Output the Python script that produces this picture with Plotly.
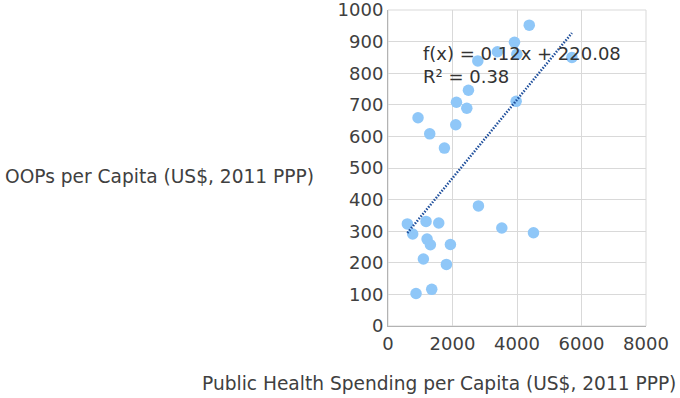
import plotly.graph_objects as go

public_spending = [4380, 3922, 3393, 3995, 5703, 2785, 2494, 2122, 2443, 3974, 931, 2101, 1294, 1749,
                   2804, 600, 1180, 1573, 766, 3529, 4511, 1211, 1314, 1935, 1097, 1811, 869, 1356]
oops = [952, 898, 868, 860, 850, 839, 746, 708, 689, 711, 659, 637, 608, 563,
        380, 323, 331, 326, 291, 310, 295, 275, 257, 258, 212, 195, 103, 116]

slope = 0.124
intercept = 220.08
trend_x = [min(public_spending), max(public_spending)]
trend_y = [slope * v + intercept for v in trend_x]

x_ticks = [0, 2000, 4000, 6000, 8000]
y_ticks = [0, 100, 200, 300, 400, 500, 600, 700, 800, 900, 1000]

tick_font = dict(family="DejaVu Sans", size=18, color="#404040")
title_font = dict(family="DejaVu Sans", size=18.6, color="#404040")

fig = go.Figure()
fig.add_trace(go.Scatter(x=public_spending, y=oops, mode="markers",
                         marker=dict(size=11.5, color="#8fc7f8"), showlegend=False, hoverinfo="skip"))
fig.add_trace(go.Scatter(x=trend_x, y=trend_y, mode="lines",
                         line=dict(color="#1f4f9c", width=2.5, dash="1.5px,1.5px"), showlegend=False,
                         hoverinfo="skip"))

fig.add_annotation(text="f(x) = 0.12x + 220.08<br>R² = 0.38", xref="paper", yref="paper",
                   x=(421 - 388) / 258, y=(326 - 41) / 316, xanchor="left", yanchor="top",
                   showarrow=False, align="left", font=dict(family="DejaVu Sans", size=18, color="#333333"))
fig.add_annotation(text="OOPs per Capita (US$, 2011 PPP)", xref="paper", yref="paper",
                   x=(316 - 388) / 258, y=(326 - 176) / 316, xanchor="right", yanchor="middle",
                   showarrow=False, font=title_font)
fig.add_annotation(text="Public Health Spending per Capita (US$, 2011 PPP)", xref="paper", yref="paper",
                   x=(439 - 388) / 258, y=(326 - 383) / 316, xanchor="center", yanchor="middle",
                   showarrow=False, font=title_font)

fig.update_layout(
    width=680, height=398,
    margin=dict(l=388, r=34, t=10, b=72),
    paper_bgcolor="white", plot_bgcolor="white",
    font=tick_font,
    xaxis=dict(range=[0, 8000], tickvals=x_ticks, showgrid=True, gridcolor="#d9d9d9", gridwidth=1,
               showline=True, linecolor="#b3b3b3", linewidth=1, zeroline=False, mirror=False,
               ticks="", ticklabelstandoff=1, tickfont=tick_font, automargin=False,
               ticklabeloverflow="allow"),
    yaxis=dict(range=[0, 1000], tickvals=y_ticks, showgrid=True, gridcolor="#d9d9d9", gridwidth=1,
               showline=True, linecolor="#b3b3b3", linewidth=1, zeroline=False,
               ticks="", ticklabelstandoff=0, tickfont=tick_font, automargin=False,
               ticklabeloverflow="allow"),
)
fig.add_shape(type="rect", xref="paper", yref="paper", x0=0, y0=0, x1=1, y1=1,
              line=dict(color="#d9d9d9", width=1), layer="below")

fig.write_html("out.html", config={"displayModeBar": False},
               post_script="document.body.style.margin='0';document.body.style.overflow='hidden';")
